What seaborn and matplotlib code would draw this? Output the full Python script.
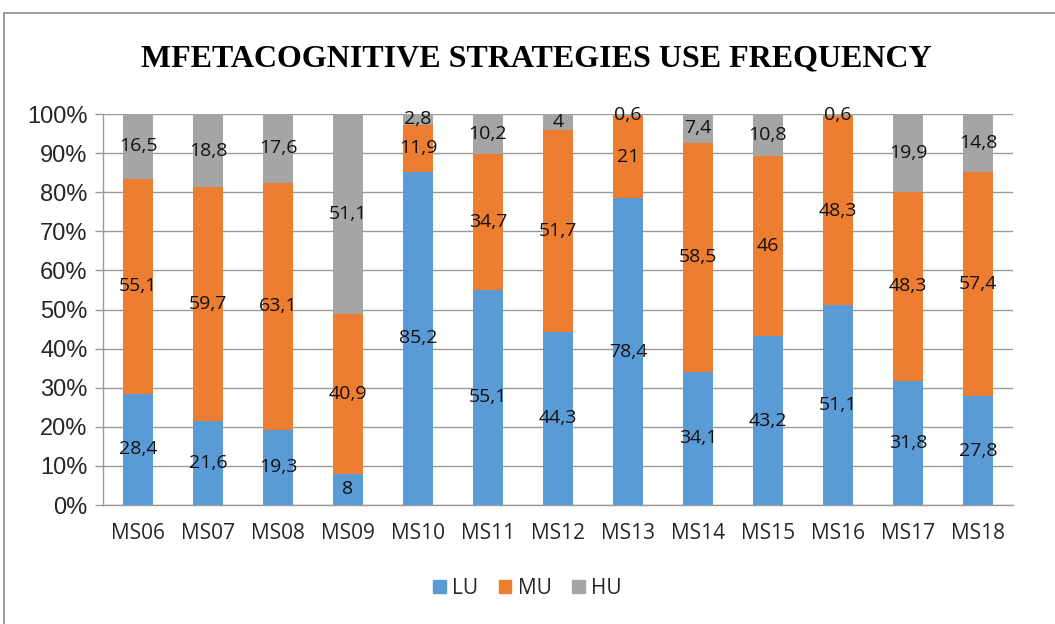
import matplotlib.pyplot as plt
import matplotlib.lines as mlines
import matplotlib.ticker as mticker
import seaborn as sns
import pandas as pd
import numpy as np

categories = ["MS06", "MS07", "MS08", "MS09", "MS10", "MS11", "MS12",
              "MS13", "MS14", "MS15", "MS16", "MS17", "MS18"]
lu = [28.4, 21.6, 19.3, 8, 85.2, 55.1, 44.3, 78.4, 34.1, 43.2, 51.1, 31.8, 27.8]
mu = [55.1, 59.7, 63.1, 40.9, 11.9, 34.7, 51.7, 21, 58.5, 46, 48.3, 48.3, 57.4]
hu = [16.5, 18.8, 17.6, 51.1, 2.8, 10.2, 4, 0.6, 7.4, 10.8, 0.6, 19.9, 14.8]
series = ["LU", "MU", "HU"]
colors = ["#5B9BD5", "#ED7D31", "#A5A5A5"]

sns.set_style("white")
plt.rcParams['font.family'] = ['Open Sans', 'DejaVu Sans']

df = pd.DataFrame({"LU": lu, "MU": mu, "HU": hu}, index=categories)
pct = df.div(df.sum(axis=1), axis=0) * 100

fig = plt.figure(figsize=(10.55, 6.24), dpi=100)
ax = fig.add_axes([0.0976, 0.1907, 0.8625, 0.6266])

pct.plot(kind='bar', stacked=True, color=colors, width=0.42, ax=ax,
         legend=False, zorder=3, edgecolor='none')

# segment labels
x = np.arange(len(categories))
bottom = np.zeros(len(categories))
for s in series:
    h = pct[s].values
    for i in range(len(categories)):
        label = f"{df[s].values[i]:g}".replace('.', ',')
        ax.text(x[i], bottom[i] + h[i] / 2, label, ha='center', va='center',
                fontsize=14, color='#111111', zorder=4)
    bottom += h

grey = '#9a9a9a'
ax.set_xlim(-0.5, len(categories) - 0.5)
ax.set_ylim(0, 100)
ax.yaxis.set_major_locator(mticker.MultipleLocator(10))
ax.yaxis.set_major_formatter(mticker.FuncFormatter(lambda v, p: f"{v:.0f}%"))
ax.grid(axis='y', color=grey, linewidth=1.0, zorder=0)
ax.set_axisbelow(True)
for sp in ['top', 'right']:
    ax.spines[sp].set_visible(False)
for sp in ['bottom', 'left']:
    ax.spines[sp].set_color(grey)
    ax.spines[sp].set_linewidth(1.0)

ax.set_xticks(x)
ax.set_xticklabels(categories, rotation=0, fontsize=15)
ax.tick_params(axis='x', length=0, pad=13)
ax.set_xticks(np.arange(len(categories) + 1) - 0.5, minor=True)
ax.tick_params(axis='x', which='minor', length=7, color=grey, width=1.0)
ax.tick_params(axis='y', length=6, width=1.0, color=grey, pad=5,
               left=True)
for lbl in ax.get_yticklabels():
    lbl.set_fontsize(17)
    lbl.set_family('Liberation Sans')
ax.set_xlabel('')

fig.text(0.508, 0.905, "MFETACOGNITIVE STRATEGIES USE FREQUENCY",
         ha='center', va='center', fontsize=23, fontweight='bold',
         family='Liberation Serif', color='black')

handles = [plt.Rectangle((0, 0), 1, 1, color=c) for c in colors]
fig.legend(handles, series, loc='center', bbox_to_anchor=(0.5, 0.057),
           ncol=3, frameon=False, fontsize=15, handlelength=0.6,
           handleheight=0.6, handletextpad=0.3, columnspacing=1.0)

# chart area border (top and left visible)
fig.add_artist(mlines.Line2D([0.004, 1.0], [0.979, 0.979], color='#8a8a8a',
                             linewidth=1.2, transform=fig.transFigure))
fig.add_artist(mlines.Line2D([0.004, 0.004], [0.0, 0.979], color='#8a8a8a',
                             linewidth=1.2, transform=fig.transFigure))

fig.savefig("out.png", dpi=100)
